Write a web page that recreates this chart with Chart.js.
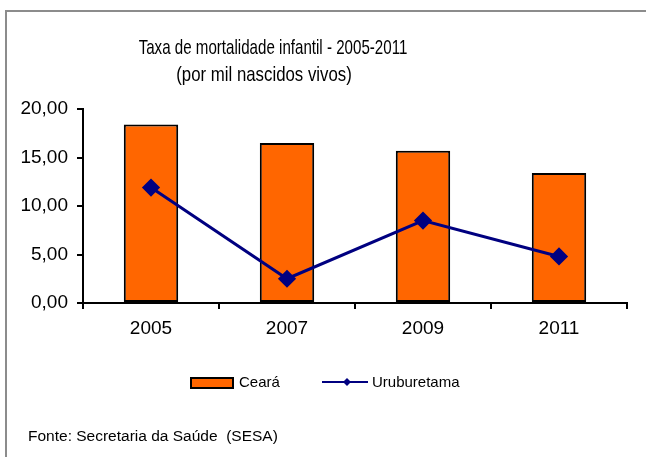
<!DOCTYPE html>
<html>
<head>
<meta charset="utf-8">
<script src="https://cdn.jsdelivr.net/npm/chart.js@4.4.1/dist/chart.umd.min.js"></script>
<style>
  html, body { margin:0; padding:0; background:#fff; overflow:hidden; }
  #wrap { position:relative; width:646px; height:457px; }
  #frame { position:absolute; left:5px; top:10px; width:660px; height:470px; border:2px solid #8c8c8c; box-sizing:border-box; }
  canvas { position:absolute; left:0; top:0; }
</style>
</head>
<body>
<div id="wrap">
  <div id="frame"></div>
  <canvas id="c" width="646" height="457"></canvas>
</div>
<script>
// --- data ---
const years = ['2005', '2007', '2009', '2011'];
const ceara = [18.4, 16.5, 15.7, 13.4];
const uruburetama = [11.9, 2.5, 8.5, 4.8];
const titleLines = ['Taxa de mortalidade infantil - 2005-2011', '(por mil nascidos vivos)'];
const footnote = 'Fonte: Secretaria da Saúde  (SESA)';

const FONT = '"Liberation Sans", Arial, sans-serif';
const ORANGE = '#ff6600', NAVY = '#000080';

const fmt = (v) => v.toFixed(2).replace('.', ',');

// title, legend and source note drawn on the canvas
const decor = {
  id: 'decor',
  afterDraw(chart) {
    const ctx = chart.ctx;
    ctx.save();
    ctx.fillStyle = '#000';
    ctx.textBaseline = 'middle';
    ctx.textAlign = 'center';
    ctx.font = '21px ' + FONT;
    [[titleLines[0], 48, 0.72, 273], [titleLines[1], 75, 0.8, 264]].forEach(([t, y, sx, cx]) => {
      ctx.save(); ctx.translate(cx, y); ctx.scale(sx, 1); ctx.fillText(t, 0, 0); ctx.restore();
    });

    // legend
    ctx.textAlign = 'left';
    ctx.font = '15px ' + FONT;
    const bar = chart.data.datasets.find(d => d.type === 'bar');
    const line = chart.data.datasets.find(d => d.type === 'line');
    ctx.fillStyle = bar.backgroundColor; ctx.strokeStyle = '#000'; ctx.lineWidth = 2;
    ctx.fillRect(191, 378, 42, 10); ctx.strokeRect(191, 378, 42, 10);
    ctx.fillStyle = '#000'; ctx.fillText(bar.label, 239, 383);
    ctx.strokeStyle = line.borderColor; ctx.lineWidth = 2;
    ctx.beginPath(); ctx.moveTo(322, 382); ctx.lineTo(368, 382); ctx.stroke();
    ctx.fillStyle = line.borderColor;
    ctx.beginPath(); ctx.moveTo(347, 378); ctx.lineTo(351, 382); ctx.lineTo(347, 386); ctx.lineTo(343, 382); ctx.closePath(); ctx.fill();
    ctx.fillStyle = '#000'; ctx.fillText(line.label, 372, 383);

    ctx.font = '15.5px ' + FONT;
    ctx.fillText(footnote, 28, 437);
    ctx.restore();
  }
};

new Chart(document.getElementById('c'), {
  data: {
    labels: years,
    datasets: [
      { type:'line', label:'Uruburetama', data:uruburetama, borderColor:NAVY, backgroundColor:NAVY,
        borderWidth:3, tension:0, pointStyle:'rectRot', pointRadius:7, pointHoverRadius:7,
        pointBackgroundColor:NAVY, pointBorderColor:NAVY, order:0 },
      { type:'bar', label:'Ceará', data:ceara, backgroundColor:ORANGE, borderColor:'#000',
        borderWidth:2, borderSkipped:false, barPercentage:0.4, categoryPercentage:1, order:1 },
    ]
  },
  options: {
    responsive:false, animation:false,
    layout:{ padding:{ top:109, left:0, right:19, bottom:0 } },
    plugins:{ legend:{display:false}, title:{display:false}, tooltip:{enabled:false} },
    scales:{
      x:{
        offset:true,
        grid:{ offset:true, drawOnChartArea:false, drawTicks:true, tickLength:6, color:'#000', lineWidth:2 },
        border:{ color:'#000', width:2 },
        ticks:{ color:'#000', font:{ family:FONT, size:19 }, padding:8 },
        afterFit(s){ s.height = 154; }
      },
      y:{
        min:0, max:20,
        grid:{ drawOnChartArea:false, drawTicks:true, tickLength:6, color:'#000', lineWidth:2 },
        border:{ color:'#000', width:2 },
        ticks:{ stepSize:5, color:'#000', font:{ family:FONT, size:19 }, padding:9, callback:(v)=>fmt(v) },
        afterFit(s){ s.width = 83; }
      }
    }
  },
  plugins:[decor]
});
</script>
</body>
</html>
